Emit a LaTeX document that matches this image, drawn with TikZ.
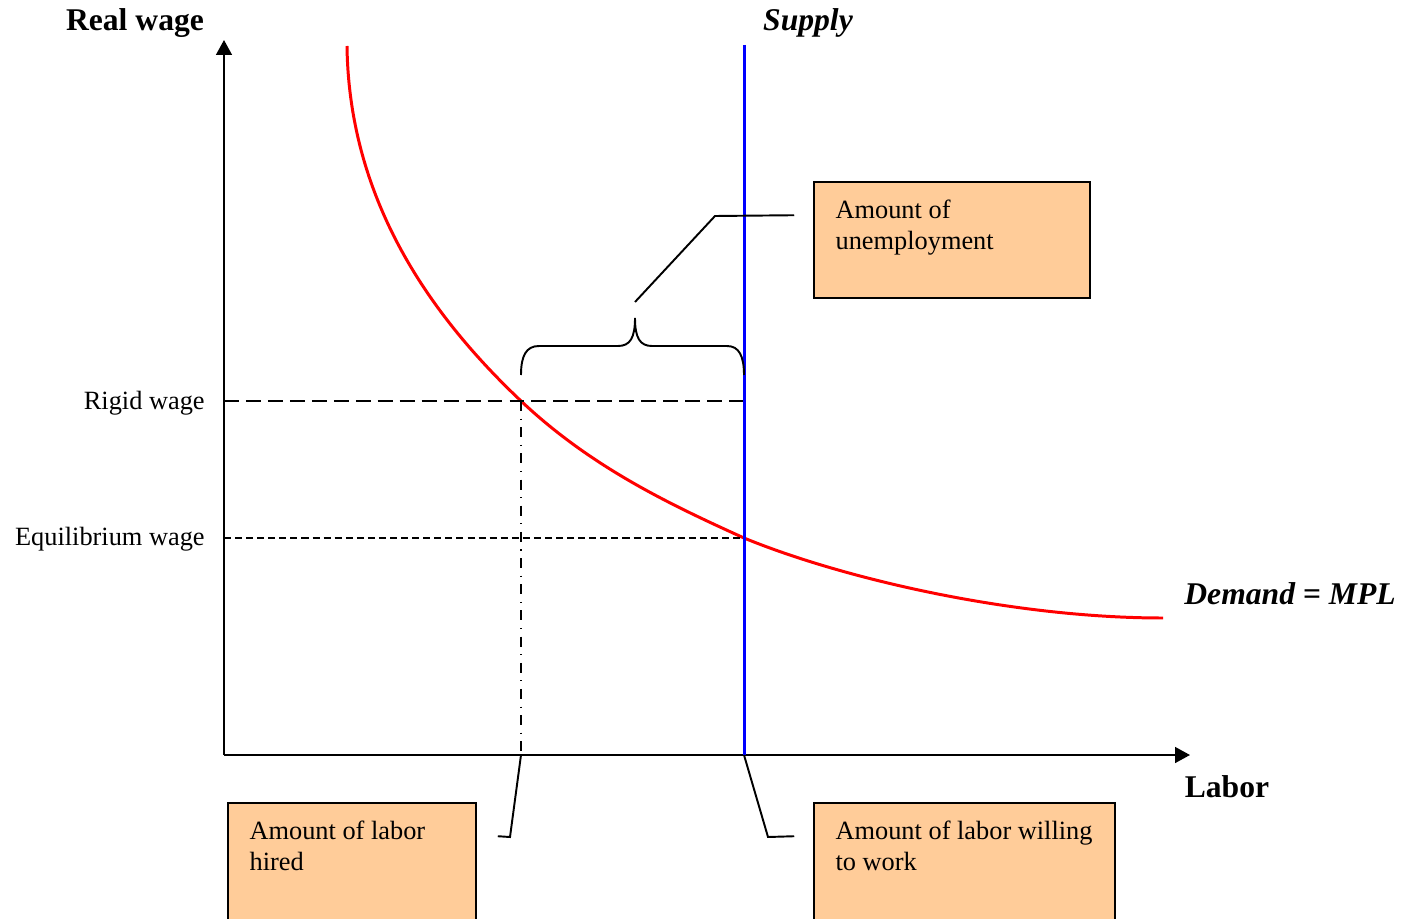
\documentclass[tikz,border=0pt]{standalone}
\usepackage{fontspec}
\setmainfont{Liberation Serif}
\usetikzlibrary{positioning,arrows.meta}
\definecolor{boxpeach}{HTML}{FFCC99}
\tikzset{
  axisarrow/.style={-{Triangle[length=8.5pt, width=9pt]}, line width=1.1pt},
  demandline/.style={red, line width=1.7pt},
  supplyline/.style={blue, line width=1.7pt},
  rigidline/.style={line width=1.1pt, dash pattern=on 8.5pt off 4pt},
  eqline/.style={line width=0.9pt, dash pattern=on 4pt off 2.3pt},
  hiredline/.style={line width=0.9pt, dash pattern=on 5.7pt off 4.3pt on 0.6pt off 4.3pt},
  callout/.style={line width=1.1pt},
  infobox/.style={draw, line width=0.9pt, fill=boxpeach, inner sep=0pt},
  boxtext/.style={anchor=north west, align=left, inner sep=0pt, font=\fontsize{15}{18}\selectfont},
  axlabel/.style={anchor=base, inner sep=0pt, font=\fontsize{18}{21}\selectfont\bfseries},
  ticklabel/.style={anchor=base east, inner sep=0pt, font=\fontsize{15}{18}\selectfont}
}

\begin{document}
\begin{tikzpicture}[x=0.02cm, y=-0.02cm]
  \useasboundingbox (0,0) rectangle (1403,919);
  \clip (0,0) rectangle (1403,919);
  % axes and key points
  \coordinate (O) at (224,755);
  \coordinate (ytop) at (224,40);
  \coordinate (xend) at (1190,755);
  \coordinate (stop) at (744,45);
  \coordinate (sbot) at (744,755);
  \coordinate (R) at (521,401);
  \coordinate (Rs) at (744,401);
  \coordinate (E) at (744,538);
  \coordinate (Rb) at (521,755);
  \draw[axisarrow] (O) -- (ytop);
  \draw[axisarrow] (O) -- (xend);
  \node[axlabel] (wagelabel) at (135,31) {Real wage};
  \node[axlabel] (laborlabel) at (1227,797) {Labor};
  \node[axlabel, font=\fontsize{18}{21}\selectfont\bfseries\itshape] (supplylabel) at (808,31) {Supply};
  \node[axlabel, font=\fontsize{18}{21}\selectfont\bfseries\itshape] (demandlabel) at (1290,604) {Demand = MPL};
  \node[ticklabel] (rigidlabel) at (205,409) {Rigid wage};
  \node[ticklabel] (eqlabel) at (205,545) {Equilibrium wage};
  % demand curve
  \draw[demandline] (347,46) .. controls (349,200) and (430,315) .. (R)
    .. controls (591,467) and (669,504) .. (E)
    .. controls (844,579) and (1013,618) .. (1163,618);
  % guide lines
  \draw[rigidline] (O |- R) -- (Rs);
  \draw[eqline] (O |- E) -- (E);
  \draw[hiredline] (R) -- (Rb);
  \draw[supplyline] (stop) -- (sbot);
  % brace over the gap
  \coordinate (bl) at (521,375);
  \coordinate (br) at (744,375);
  \coordinate (btip) at (635,318);
  \draw[callout] (bl) .. controls (521,356) and (526,346) .. (539,346) -- (618,346)
    .. controls (630,346) and (635,338) .. (btip)
    .. controls (635,338) and (640,346) .. (652,346) -- (727,346)
    .. controls (739,346) and (744,356) .. (br);
  % boxes
  \node[infobox, minimum width=5.52cm, minimum height=2.32cm] (ubox) at (952,240) {};
  \node[boxtext] (utext) at ([shift={(22,18)}]ubox.north west) {Amount of\\unemployment};
  \node[infobox, minimum width=4.96cm, minimum height=2.54cm] (hbox) at (352,866.5) {};
  \node[boxtext] (htext) at ([shift={(22,18)}]hbox.north west) {Amount of labor\\hired};
  \node[infobox, minimum width=6.02cm, minimum height=2.54cm] (wbox) at (964.5,866.5) {};
  \node[boxtext] (wtext) at ([shift={(22,18)}]wbox.north west) {Amount of labor willing\\to work};
  % callouts
  \coordinate (uend) at ([shift={(-19,34)}]ubox.north west);
  \coordinate (hend) at ([shift={(21,34)}]hbox.north east);
  \coordinate (wend) at ([shift={(-19,34)}]wbox.north west);
  \draw[callout] (635,302) -- (715,216) -- (uend);
  \draw[callout] (Rb) -- (510,837) -- (hend);
  \draw[callout] (sbot) -- (768,837) -- (wend);
\end{tikzpicture}
\end{document}
